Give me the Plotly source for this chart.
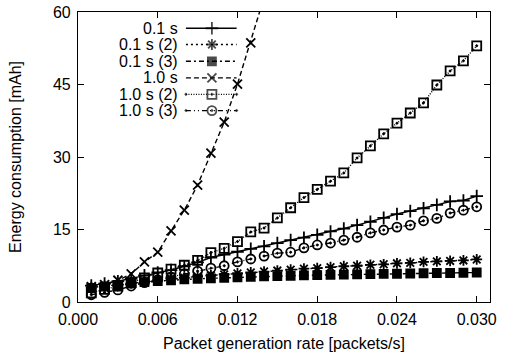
import plotly.graph_objects as go

# ---- data ----
rate = [round(0.001 * k, 3) for k in range(1, 31)]

s01 = [3.4, 3.8, 4.3, 4.9, 5.5, 6.1, 6.6, 7.4, 8.2, 9.2, 9.8, 10.4, 11.0, 11.5, 12.2,
       12.8, 13.3, 13.9, 14.6, 15.2, 15.9, 16.6, 17.4, 18.2, 18.8, 19.4, 20.1, 20.8, 21.0, 21.9]
s01_2 = [3.0, 3.3, 3.6, 3.9, 4.2, 4.5, 4.8, 5.0, 5.3, 5.5, 5.7, 5.9, 6.1, 6.3, 6.5,
         6.7, 6.9, 7.0, 7.2, 7.4, 7.5, 7.7, 7.8, 8.0, 8.1, 8.3, 8.4, 8.5, 8.6, 8.8]
s01_3 = [2.9, 3.2, 3.5, 3.8, 4.1, 4.3, 4.5, 4.7, 4.8, 4.9, 5.0, 5.1, 5.2, 5.3, 5.35,
         5.4, 5.5, 5.55, 5.6, 5.65, 5.7, 5.75, 5.8, 5.85, 5.9, 5.95, 6.0, 6.0, 6.05, 6.1]
s10 = [3.2, 3.6, 4.5, 5.8, 8.3, 10.3, 14.7, 19.0, 24.2, 30.8, 37.2, 45.1, 53.6, 62.5, 72.0]
s10_2 = [1.9, 2.6, 3.3, 4.0, 5.0, 6.0, 6.8, 7.6, 8.6, 10.2, 11.1, 12.5, 14.5, 15.3, 17.4,
         19.5, 21.6, 23.3, 25.0, 26.7, 29.8, 32.3, 34.8, 37.0, 39.1, 41.2, 44.9, 47.8, 49.9, 53.0]
s10_3 = [1.5, 2.0, 2.5, 3.3, 4.0, 4.6, 5.2, 5.8, 6.4, 7.0, 7.5, 8.3, 8.9, 9.5, 10.1,
         10.3, 11.2, 11.8, 12.2, 12.8, 13.4, 14.3, 14.9, 15.5, 15.9, 16.8, 17.3, 18.4, 19.0, 19.7]

names = ["0.1 s", "0.1 s (2)", "0.1 s (3)", "1.0 s", "1.0 s (2)", "1.0 s (3)"]
series = [s01, s01_2, s01_3, s10, s10_2, s10_3]
x_ticks = [0.000, 0.006, 0.012, 0.018, 0.024, 0.030]
x_tick_labels = ["0.000", "0.006", "0.012", "0.018", "0.024", "0.030"]
y_ticks = [0, 15, 30, 45, 60]

# ---- styles ----
styles = [
    dict(dash="solid", symbol="cross-thin", size=9),
    dict(dash="2px,3px", symbol="asterisk", size=9),
    dict(dash="5px,3px,2px,3px", symbol="square", size=8),
    dict(dash="5px,3px", symbol="x-thin", size=9),
    dict(dash="1px,1.5px", symbol="square-open-dot", size=9),
    dict(dash="5px,3px,1px,3px,1px,3px", symbol="circle-open-dot", size=9),
]

FONT = "Arial, 'Liberation Sans', Helvetica, sans-serif"

fig = go.Figure()

for name, ys, st in zip(names, series, styles):
    fig.add_trace(go.Scatter(
        x=rate[:len(ys)], y=ys, name=name, mode="lines+markers",
        line=dict(color="black", width=1.4, dash=st["dash"]),
        marker=dict(symbol=st["symbol"], size=st["size"], color="black",
                    line=dict(color="black", width=1.8)),
        showlegend=False, cliponaxis=True,
    ))

# ---- custom legend (text left, sample right, like gnuplot) ----
leg_rows = [0.944, 0.888, 0.830, 0.773, 0.716, 0.660]
leg_x0, leg_x1, leg_xm, leg_text_x = 0.262, 0.385, 0.325, 0.245
for name, st, yr in zip(names, styles, leg_rows):
    fig.add_trace(go.Scatter(
        x=[leg_x0, leg_xm, leg_x1], y=[yr, yr, yr], xaxis="x2", yaxis="y2",
        mode="lines+markers", showlegend=False, hoverinfo="skip",
        line=dict(color="black", width=1.4, dash=st["dash"]),
        marker=dict(symbol=st["symbol"], size=[0, st["size"], 0], color="black",
                    line=dict(color="black", width=1.8)),
    ))
    fig.add_annotation(x=leg_text_x, y=yr, xref="paper", yref="paper", text=name,
                       showarrow=False, xanchor="right", yanchor="middle",
                       borderpad=0, font=dict(family=FONT, size=16, color="black"))

axis_font = dict(family=FONT, size=16, color="black")
fig.update_layout(
    width=505, height=356,
    margin=dict(l=78, r=15, t=12, b=54),
    paper_bgcolor="white", plot_bgcolor="white",
    font=axis_font,
    xaxis=dict(range=[0, 0.031], tickvals=x_ticks, ticktext=x_tick_labels,
               ticks="inside", ticklen=6, tickwidth=1, tickcolor="black",
               showline=True, linecolor="black", linewidth=1.2, mirror="ticks",
               showgrid=False, zeroline=False, tickfont=axis_font, automargin=False,
               ticklabelstandoff=3,
               title=dict(text="Packet generation rate [packets/s]", standoff=10, font=axis_font)),
    yaxis=dict(range=[0, 60], tickvals=y_ticks,
               ticks="inside", ticklen=6, tickwidth=1, tickcolor="black",
               showline=True, linecolor="black", linewidth=1.2, mirror="ticks",
               showgrid=False, zeroline=False, tickfont=axis_font, automargin=False,
               ticklabelstandoff=3,
               title=dict(text="Energy consumption [mAh]", standoff=27, font=axis_font)),
    xaxis2=dict(range=[0, 1], overlaying="x", visible=False, fixedrange=True),
    yaxis2=dict(range=[0, 1], overlaying="y", visible=False, fixedrange=True),
)

fig.write_html("out.html", config={"displayModeBar": False},
               post_script="document.body.style.margin='0px';document.body.style.overflow='hidden';")
